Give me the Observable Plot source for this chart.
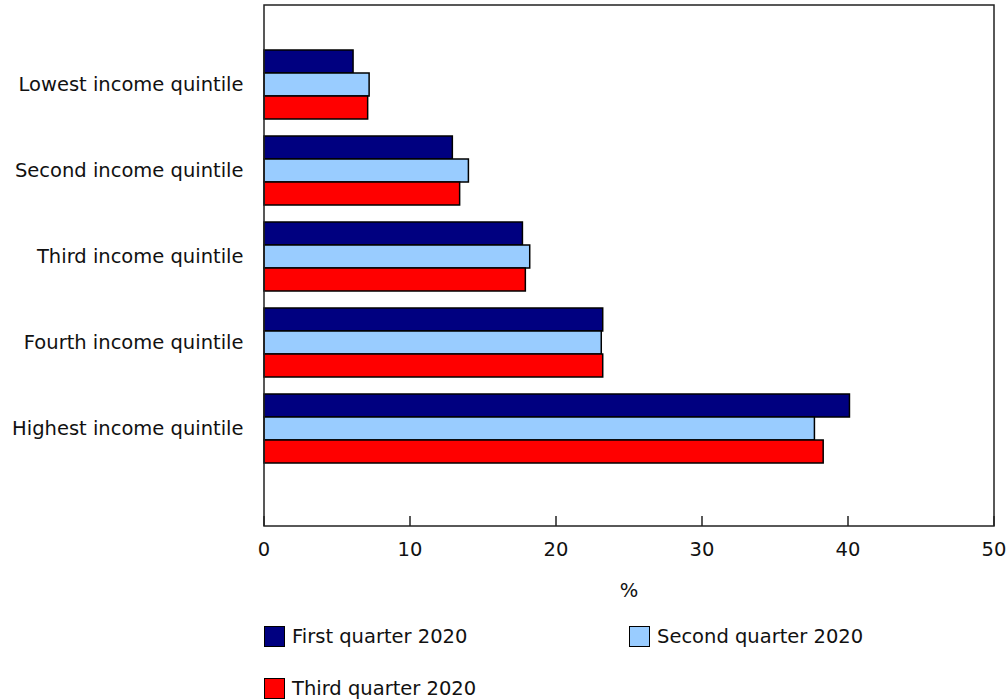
<!DOCTYPE html>
<html>
<head>
<meta charset="utf-8">
<script src="https://cdn.jsdelivr.net/npm/d3@7"></script>
<script src="https://cdn.jsdelivr.net/npm/@observablehq/plot@0.6"></script>
<style>
  body { margin: 0; background: #fff; font-family: "DejaVu Sans", Verdana, sans-serif; }
  #legend { position: relative; width: 1008px; height: 90px; font-size: 19.5px; color: #111; }
  .item { position: absolute; display: flex; align-items: center; line-height: 1; }
  .sw { width: 19px; height: 19px; border: 1.5px solid #000; margin-right: 7px; box-sizing: content-box; }
</style>
</head>
<body>
<div id="chart"></div>
<div id="legend"></div>
<script>
const categories = ["Lowest income quintile", "Second income quintile", "Third income quintile", "Fourth income quintile", "Highest income quintile"];
const seriesNames = ["First quarter 2020", "Second quarter 2020", "Third quarter 2020"];
const seriesColors = ["#000080", "#99CCFF", "#FF0000"];
const firstQ  = [6.1, 12.9, 17.7, 23.2, 40.1];
const secondQ = [7.2, 14.0, 18.2, 23.1, 37.7];
const thirdQ  = [7.1, 13.4, 17.9, 23.2, 38.3];
const xTicks = [0, 10, 20, 30, 40, 50];
const axisLabel = "%";

const seriesValues = [firstQ, secondQ, thirdQ];
const rows = [];
categories.forEach((c, i) => {
  seriesNames.forEach((s, j) => rows.push({category: c, series: s, value: seriesValues[j][i]}));
});

const W = 1008, H = 610, mL = 264, mR = 14, mT = 5, mB = 84;
const FONT = "DejaVu Sans, Verdana, sans-serif";

const plot = Plot.plot({
  width: W, height: H,
  marginLeft: mL, marginRight: mR, marginTop: mT, marginBottom: mB,
  style: {fontFamily: FONT, fontSize: "19.5px", color: "#111", background: "#fff"},
  facet: {data: rows, y: "category"},
  fy: {domain: categories, axis: "left", label: null, tickSize: 0, tickPadding: 21, paddingInner: 0.2, paddingOuter: 0.6, align: 0.42},
  y: {domain: seriesNames, axis: null, padding: 0},
  x: {domain: [0, 50], axis: null},
  color: {domain: seriesNames, range: seriesColors},
  marks: [
    Plot.barX(rows, {x: "value", y: "series", fill: "series", stroke: "#000", strokeWidth: 1.5})
  ]
});

document.getElementById("chart").appendChild(plot);

// outer frame, inward ticks, tick labels and axis title using the plot's x scale
const svg = d3.select(plot.tagName.toLowerCase() === "svg" ? plot : plot.querySelector("svg"));
const xs = plot.scale("x");
const bottom = H - mB;
svg.append("rect")
  .attr("x", mL).attr("y", mT)
  .attr("width", W - mL - mR).attr("height", H - mT - mB)
  .attr("fill", "none").attr("stroke", "#222").attr("stroke-width", 1.5);
const ax = svg.append("g").attr("font-family", FONT).attr("font-size", "19.5px").attr("fill", "#111");
ax.selectAll("line").data(xTicks).join("line")
  .attr("x1", d => xs.apply(d)).attr("x2", d => xs.apply(d))
  .attr("y1", bottom - 10).attr("y2", bottom)
  .attr("stroke", "#222").attr("stroke-width", 1.5);
ax.selectAll("text.tick").data(xTicks).join("text").attr("class", "tick")
  .attr("x", d => xs.apply(d)).attr("y", bottom + 23).attr("dy", "0.35em")
  .attr("text-anchor", "middle").text(d => d);
ax.append("text")
  .attr("x", (mL + W - mR) / 2).attr("y", bottom + 64).attr("dy", "0.35em")
  .attr("text-anchor", "middle").text(axisLabel);

// legend
const legend = document.getElementById("legend");
const pos = [[264, 16], [629, 16], [264, 68]];
seriesNames.forEach((s, i) => {
  const it = document.createElement("div");
  it.className = "item";
  it.style.left = pos[i][0] + "px";
  it.style.top = pos[i][1] + "px";
  const sw = document.createElement("div");
  sw.className = "sw";
  sw.style.background = seriesColors[i];
  const t = document.createElement("span");
  t.textContent = s;
  it.appendChild(sw); it.appendChild(t);
  legend.appendChild(it);
});
</script>
</body>
</html>
